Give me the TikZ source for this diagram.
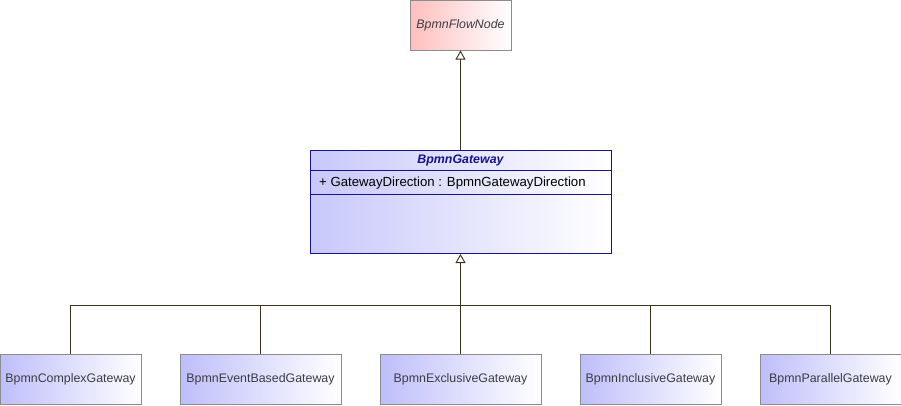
\documentclass[tikz,border=0pt]{standalone}
\usepackage{fontspec}
\setmainfont{Liberation Sans}
\usetikzlibrary{arrows.meta,positioning,calc}

\definecolor{boxline}{RGB}{140,140,140}
\definecolor{classblue}{RGB}{190,190,250}
\definecolor{classred}{RGB}{255,190,190}
\definecolor{navyline}{RGB}{20,20,140}
\definecolor{wire}{RGB}{60,48,30}
\definecolor{txt}{RGB}{60,60,70}

\begin{document}
\begin{tikzpicture}[
    x=1pt, y=-1pt,
    cls/.style={rectangle, draw=boxline, line width=1pt, left color=classblue, right color=white,
                minimum width=141pt, minimum height=50pt, inner sep=0pt,
                font=\fontsize{12.4}{14}\selectfont, text=txt},
    abstract/.style={cls, left color=classred, minimum width=101pt, font=\fontsize{12.4}{14}\selectfont\itshape},
    gateway/.style={rectangle, draw=navyline, line width=1pt, left color=classblue!85, right color=white,
                    minimum width=301pt, minimum height=103pt, inner sep=0pt},
    line/.style={draw=wire, line width=0.9pt},
    inherit/.style={line, -{Triangle[open, length=9pt, width=10pt]}}
]
\useasboundingbox (0,0) rectangle (901,405);

%% ── Parent classes ───────────────────────────────────────────────
\node[abstract] (flownode) at (460.5,25) {BpmnFlowNode};
\node[gateway]  (gw)       at (460.5,202) {};
\node[font=\fontsize{12.4}{14}\selectfont\bfseries\itshape, text=navyline]
    (gwtitle) at (460.5,160) {BpmnGateway};
\node[font=\fontsize{13.2}{15}\selectfont, anchor=west, inner sep=0pt]
    (gwattr) at (319,183) {+ GatewayDirection : BpmnGatewayDirection};
\draw[draw=navyline, line width=1pt] ($(gw.north west)+(0,20)$) -- ($(gw.north east)+(0,20)$);
\draw[draw=navyline, line width=1pt] ($(gw.north west)+(0,44)$) -- ($(gw.north east)+(0,44)$);

%% ── Concrete gateways ────────────────────────────────────────────
\node[cls]                          (complex)   at (70.5,379.5) {BpmnComplexGateway};
\node[cls, minimum width=161pt]     (eventbased) at (260.5,379.5) {BpmnEventBasedGateway};
\node[cls, minimum width=161pt]     (exclusive) at (460.5,379.5) {BpmnExclusiveGateway};
\node[cls]                          (inclusive) at (650.5,379.5) {BpmnInclusiveGateway};
\node[cls]                          (parallel)  at (830.5,379.5) {BpmnParallelGateway};

%% ── Generalisation arrows ────────────────────────────────────────
\coordinate (bus) at (460.5,305);
\draw[inherit] (gw.north) -- (flownode.south);
\draw[inherit] (exclusive.north) -- (gw.south);
\draw[line] (complex.north)    |- (bus);
\draw[line] (eventbased.north) |- (bus);
\draw[line] (inclusive.north)  |- (bus);
\draw[line] (parallel.north)   |- (bus);

\end{tikzpicture}
\end{document}
